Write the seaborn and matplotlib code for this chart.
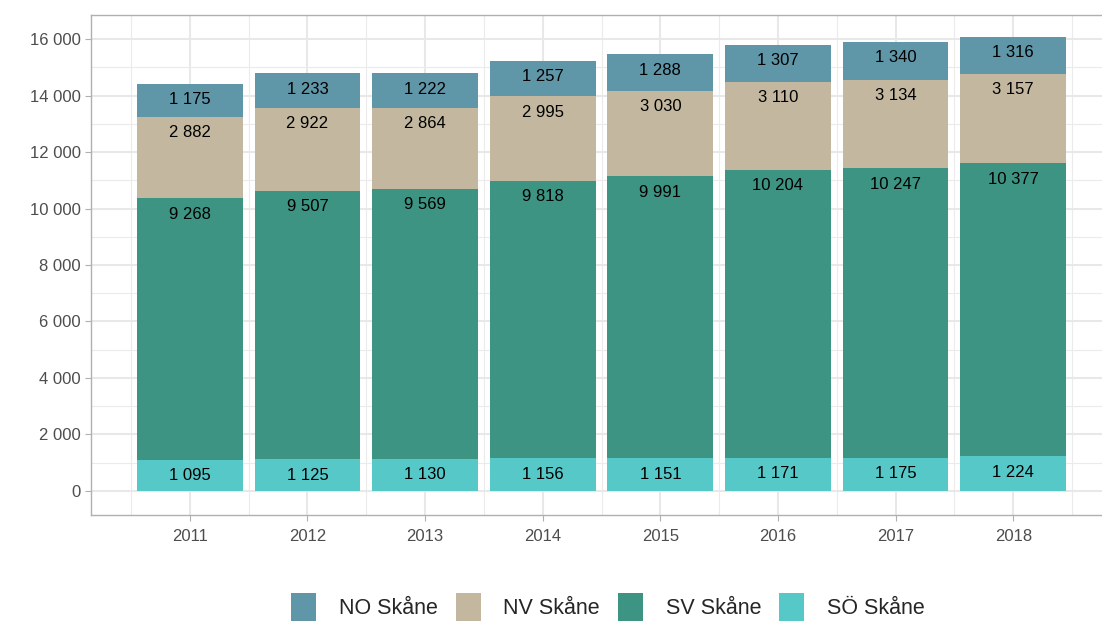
import numpy as np
import pandas as pd
import matplotlib
matplotlib.use('Agg')
import matplotlib.pyplot as plt
import matplotlib.ticker as mticker
from matplotlib.patches import Patch
import seaborn as sns

# Data
years = ['2011', '2012', '2013', '2014', '2015', '2016', '2017', '2018']
so_skane = [1095, 1125, 1130, 1156, 1151, 1171, 1175, 1224]
sv_skane = [9268, 9507, 9569, 9818, 9991, 10204, 10247, 10377]
nv_skane = [2882, 2922, 2864, 2995, 3030, 3110, 3134, 3157]
no_skane = [1175, 1233, 1222, 1257, 1288, 1307, 1340, 1316]

regions = ['NO Skåne', 'NV Skåne', 'SV Skåne', 'SÖ Skåne']
colors = {'NO Skåne': '#5f96a8', 'NV Skåne': '#c3b89f',
          'SV Skåne': '#3d9482', 'SÖ Skåne': '#56c8c8'}

sns.set_theme(style='white')
plt.rcParams['font.family'] = ['Liberation Sans', 'DejaVu Sans']

df = pd.DataFrame({'year': years, 'SÖ Skåne': so_skane, 'SV Skåne': sv_skane,
                   'NV Skåne': nv_skane, 'NO Skåne': no_skane})

# stacking order bottom -> top
stack = ['SÖ Skåne', 'SV Skåne', 'NV Skåne', 'NO Skåne']
cum = df[stack].cumsum(axis=1)

fig = plt.figure(figsize=(11.02, 6.21), dpi=100)
ax = fig.add_axes([91 / 1102, 106 / 621, 1021 / 1102, 500 / 621])

# draw cumulative totals from top layer down so they overlap into a stack
for reg in reversed(stack):
    sns.barplot(x=df['year'], y=cum[reg], color=colors[reg], width=0.9,
                saturation=1, linewidth=0, ax=ax, zorder=2)

# value labels near the top of each segment
for i in range(len(years)):
    for reg in stack:
        top = cum[reg].iloc[i]
        val = df[reg].iloc[i]
        ax.text(i, top - 560, f'{val:,}'.replace(',', ' '), ha='center', va='center',
                fontsize=12, color='black', zorder=3)

ax.set_xlim(-0.84, 7.84)
ax.set_ylim(-850, 16850)
ax.set_xlabel('')
ax.set_ylabel('')

ax.yaxis.set_major_locator(mticker.MultipleLocator(2000))
ax.yaxis.set_minor_locator(mticker.MultipleLocator(1000))
ax.xaxis.set_minor_locator(mticker.FixedLocator(np.arange(-0.5, 8.0, 1)))
ax.yaxis.set_major_formatter(mticker.FuncFormatter(lambda v, p: f'{int(v):,}'.replace(',', ' ')))

ax.grid(which='major', color='#e8e8e8', linewidth=1.5, zorder=0)
ax.grid(which='minor', color='#ebebeb', linewidth=0.8, zorder=0)
ax.set_axisbelow(True)

for side in ['left', 'bottom', 'top']:
    ax.spines[side].set_color('#b0b0b0')
    ax.spines[side].set_linewidth(1.0)
ax.spines['right'].set_visible(False)

ax.tick_params(axis='both', which='major', length=4, width=0.8, color='#b0b0b0',
               labelsize=12, labelcolor='#4d4d4d', left=True, bottom=True)
ax.tick_params(axis='both', which='minor', length=0)
ax.tick_params(axis='x', pad=6)

handles = [Patch(facecolor=colors[r], edgecolor='none', label=r) for r in regions]
fig.legend(handles=handles, loc='center', bbox_to_anchor=(608 / 1102, 14 / 621),
           ncol=4, frameon=False, fontsize=15.5, handlelength=1.15, handleheight=1.65,
           columnspacing=0.85, handletextpad=1.05)

fig.savefig('out.png', dpi=100)
